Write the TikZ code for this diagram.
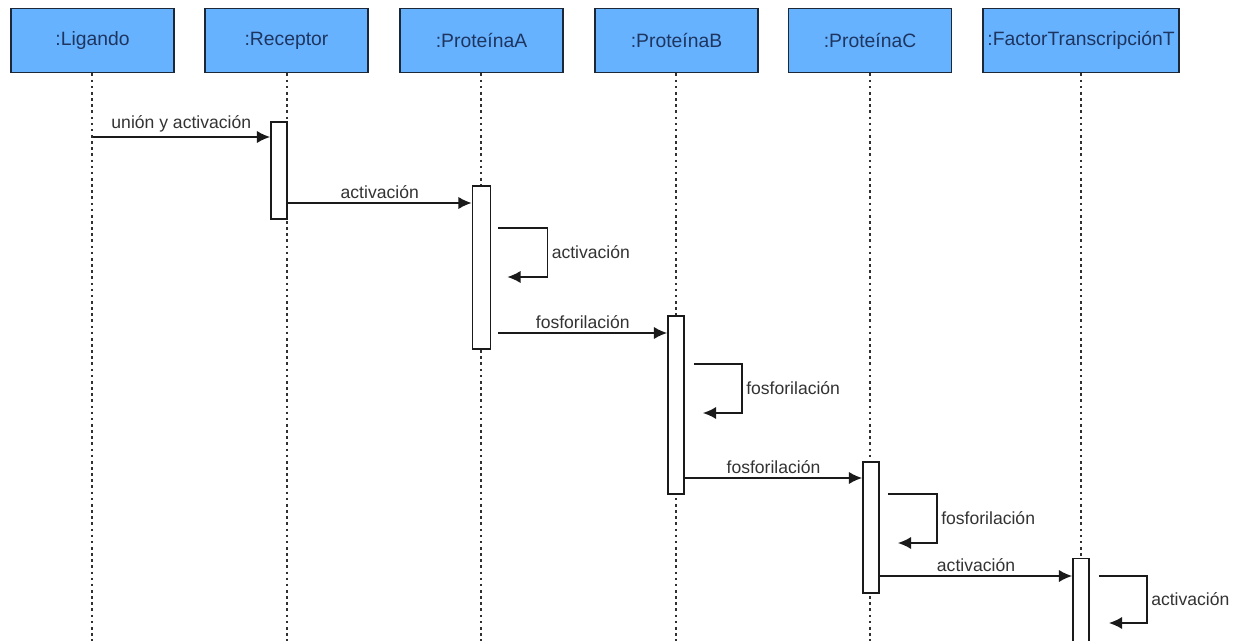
\documentclass[tikz,border=0pt]{standalone}
\usepackage{fontspec}
\setmainfont{Liberation Sans}
\usetikzlibrary{arrows.meta,calc}
\definecolor{headfill}{HTML}{66B2FF}
\definecolor{headline}{HTML}{1C2838}
\definecolor{headtext}{HTML}{1E3560}
\definecolor{ink}{HTML}{1A1A1A}
\definecolor{lbl}{HTML}{333333}
\begin{document}
\begin{tikzpicture}[x=0.02cm,y=-0.02cm,
  header/.style={draw=headline,fill=headfill,line width=1.1pt,minimum height=1.28cm,
    minimum width=3.26cm,inner sep=0pt,text=headtext,font=\fontsize{11}{13}\selectfont},
  lifeline/.style={draw=ink!90,line width=1.1pt,dash pattern=on 1.5pt off 2pt},
  actbox/.style={draw=ink,fill=white,line width=1pt,minimum width=0.32cm,inner sep=0pt},
  msg/.style={draw=ink,line width=1pt,-{Latex[length=7.5pt,width=7pt]}},
  msglabel/.style={text=lbl,font=\fontsize{10}{12}\selectfont,inner sep=2pt}]
\useasboundingbox (0,0) rectangle (1239,641);
\fill[white] (0,0) rectangle (1239,641);

% participants
\node[header] (lig) at (92.5,40.5) {:Ligando};
\node[header] (rec) at (286.5,40.5) {:Receptor};
\node[header] (pa)  at (481.5,40.5) {:ProteínaA};
\node[header] (pb)  at (676.5,40.5) {:ProteínaB};
\node[header] (pc)  at (870,40.5) {:ProteínaC};
\node[header,minimum width=3.92cm] (ft) at (1081,40.5) {:FactorTranscripciónT};

% lifelines
\foreach \p/\x in {lig/92,rec/287,pa/481,pb/676,pc/870,ft/1081}{
  \coordinate (\p end) at (\x,641);
  \draw[lifeline] (\p.south -| \p end) -- (\p end);
}

% activation bars
\node[actbox,minimum height=1.94cm] (arec) at (279,170.5) {};
\node[actbox,minimum height=3.26cm,minimum width=0.36cm] (apa) at (481.5,267.5) {};
\node[actbox,minimum height=3.56cm] (apb) at (676,405) {};
\node[actbox,minimum height=2.62cm] (apc) at (871,527.5) {};
\node[actbox,minimum height=1.7cm] (aft) at (1081,601) {};

% messages between participants
\draw[msg] (lig.south |- 0,137) -- node[msglabel,above]{unión y activación} (arec.west |- 0,137);
\draw[msg] (arec.east |- 0,203) -- node[msglabel,above]{activación} (apa.west |- 0,203);
\draw[msg] ($(apa.east |- 0,333)+(7,0)$) -- node[msglabel,above]{fosforilación} (apb.west |- 0,333);
\draw[msg] (apb.east |- 0,478) -- node[msglabel,above]{fosforilación} (apc.west |- 0,478);
\draw[msg] (apc.east |- 0,576) -- node[msglabel,above]{activación} (aft.west |- 0,576);

% self messages
\draw[msg] ($(apa.east |- 0,228)+(7,0)$) -- ++(49,0) -- node[msglabel,right]{activación} ++(0,49) -- ++(-40,0);
\draw[msg] ($(apb.east |- 0,364)+(9,0)$) -- ++(48,0) -- node[msglabel,right]{fosforilación} ++(0,49) -- ++(-39,0);
\draw[msg] ($(apc.east |- 0,494)+(8,0)$) -- ++(49,0) -- node[msglabel,right]{fosforilación} ++(0,49) -- ++(-39,0);
\draw[msg] ($(aft.east |- 0,576)+(9,0)$) -- ++(48,0) -- node[msglabel,right]{activación} ++(0,47) -- ++(-38,0);
\end{tikzpicture}
\end{document}
